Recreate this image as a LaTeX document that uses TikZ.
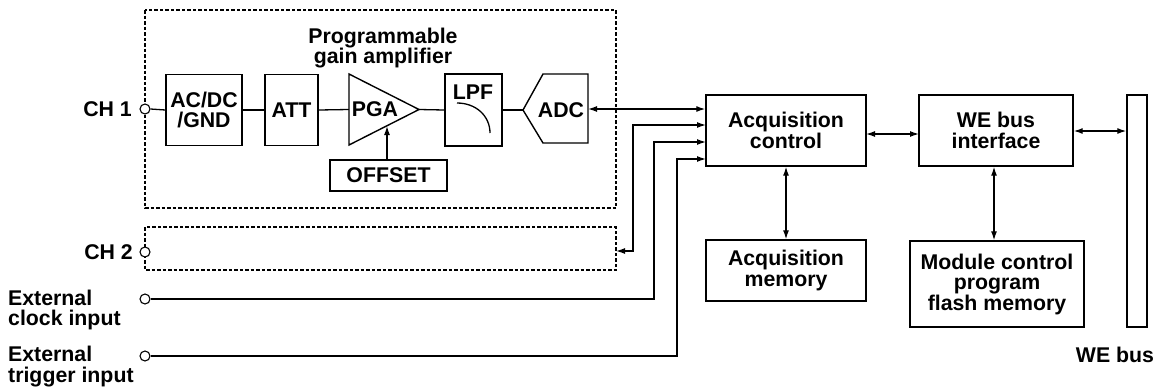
\documentclass[tikz,border=0pt]{standalone}
\usepackage{fontspec}
\setmainfont{Liberation Sans}
\usetikzlibrary{arrows.meta}
\begin{document}
\begin{tikzpicture}[x=1pt,y=-1pt,
  font=\bfseries\fontsize{21.3}{20.5}\selectfont,
  box/.style={draw, line width=1.4pt, inner sep=0pt, align=center},
  dbox/.style={draw, line width=1.1pt, dash pattern=on 3.5pt off 2pt},
  port/.style={draw, circle, fill=white, minimum size=10pt, inner sep=0pt, line width=1.1pt},
  wire/.style={line width=1.3pt},
  arr/.style={wire, -{Latex[length=9pt,width=6pt]}},
  darr/.style={wire, {Latex[length=9pt,width=6pt]}-{Latex[length=9pt,width=6pt]}},
  lbl/.style={inner sep=0pt, align=center}]

\useasboundingbox (0,0) rectangle (1165,389);

% dashed channel boxes
\draw[dbox] (145,10) rectangle (616,208);
\draw[dbox] (145,227) rectangle (616,270);

% title
\node[lbl] (title) at (383,48) {Programmable\\gain amplifier};

% CH1 chain
\node[port] (ch1) at (145,109) {};
\node[lbl, anchor=east] (ch1l) at (132,109) {CH 1};
\node[box, minimum width=76pt, minimum height=71pt] (acdc) at (204,110) {AC/DC\\/GND};
\node[box, minimum width=53pt, minimum height=71pt] (att) at (291.5,110) {ATT};

% PGA triangle
\draw[line width=1.4pt] (349,74) -- (419,109.5) -- (349,145) -- cycle;
\coordinate (pgaL) at (349,109.5);
\coordinate (pgaR) at (419,109.5);
\coordinate (pgaB) at (387,126);
\node[lbl] (pgat) at (375,109.5) {PGA};
\node[box, minimum width=117pt, minimum height=31pt] (offset) at (388.5,175.5) {OFFSET};

% LPF
\node[box, minimum width=57pt, minimum height=72pt] (lpf) at (473.5,110) {};
\node[lbl] (lpft) at (473,92) {LPF};
\draw[line width=1.3pt] (457,103) .. controls (476,103) and (490,116) .. (490,133);

% ADC
\draw[line width=1.4pt] (523,110) -- (543,74) -- (588,74) -- (588,143) -- (543,143) -- cycle;
\coordinate (adcL) at (523,110);
\coordinate (adcR) at (588,109);
\node[lbl] (adct) at (561,110) {ADC};

\draw[wire] (ch1.east) -- (acdc.west);
\draw[wire] (acdc.east) -- (att.west);
\draw[wire] (att.east) -- (pgaL);
\draw[wire] (pgaR) -- (lpf.west);
\draw[wire] (lpf.east) -- (adcL);
\draw[arr] (offset.north -| pgaB) -- (pgaB);

% CH2
\node[port] (ch2) at (145,252) {};
\node[lbl, anchor=east] (ch2l) at (133,252) {CH 2};
\coordinate (ch2R) at (616,251);

% external inputs
\node[port] (clk) at (145,299) {};
\node[lbl, anchor=west, align=left] (clkl) at (8,310) {External\\clock input};
\node[port] (trg) at (145,356) {};
\node[lbl, anchor=west, align=left] (trgl) at (8,366.5) {External\\trigger input};

% right side blocks
\node[box, minimum width=160pt, minimum height=71pt] (acqc) at (786,130.5) {Acquisition\\control};
\node[box, minimum width=160pt, minimum height=61pt] (acqm) at (786,270.5) {Acquisition\\memory};
\node[box, minimum width=154pt, minimum height=71pt] (weif) at (996,130.5) {WE bus\\interface};
\node[box, minimum width=174pt, minimum height=86pt] (flash) at (997,284) {Module control\\program\\flash memory};
\node[box, minimum width=20pt, minimum height=232pt] (webus) at (1137,211) {};
\node[lbl] (webusl) at (1115,355) {WE bus};

% connectors into acquisition control
\draw[darr] (adcR) -- (adcR -| acqc.west);
\draw[darr] (ch2R) -- (633,251) -- (633,125) -- (706,125);
\draw[arr] (clk.east) -- (654,299) -- (654,142) -- (706,142);
\draw[arr] (trg.east) -- (677,356) -- (677,159) -- (706,159);

\draw[darr] (acqc.south) -- (acqm.north);
\draw[darr] (866,134) -- (919,134);
\draw[darr] (weif.south -| 994,0) -- (flash.north -| 994,0);
\draw[darr] (weif.east |- 0,131) -- (webus.west |- 0,131);
\end{tikzpicture}
\end{document}
